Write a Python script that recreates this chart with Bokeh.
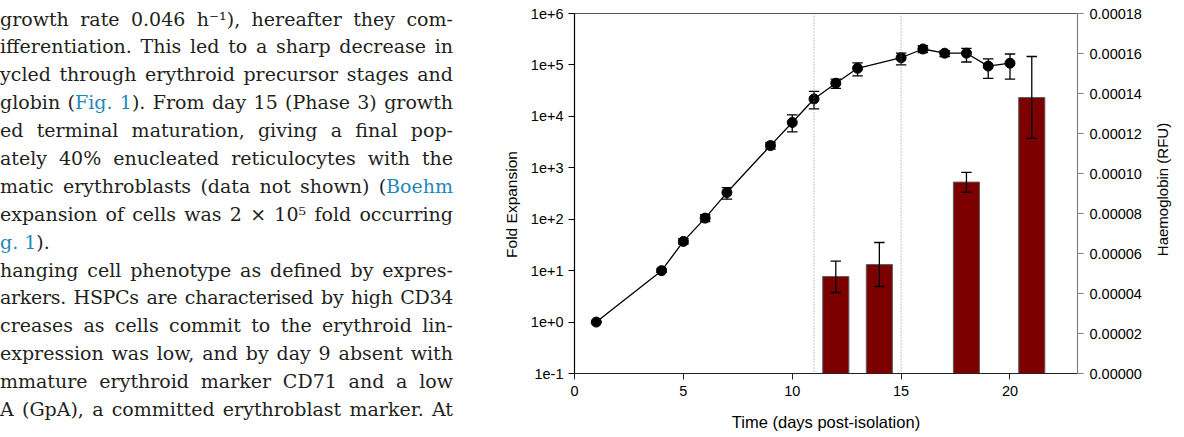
import math
import html
from bokeh.plotting import figure
from bokeh.models import (Range1d, LinearAxis, LinearScale, FixedTicker, CustomJSTickFormatter,
                          PrintfTickFormatter, Span, Div)
from bokeh.layouts import row
from bokeh.core.properties import value
from bokeh.embed import file_html
from bokeh.resources import INLINE

# ---------------- data ----------------
days = [1, 4, 5, 6, 7, 9, 10, 11, 12, 13, 15, 16, 17, 18, 19, 20]
fold = [1, 10, 37, 105, 330, 2700, 7600, 21800, 44000, 86000, 138000, 204000, 169000, 169000, 95000, 108000]
fold_lo = [1, 9.3, 33, 90, 245, 2300, 5000, 14000, 35000, 61000, 100000, 174000, 145000, 114000, 55000, 53000]
fold_hi = [1, 10.8, 42, 122, 410, 3100, 10700, 30700, 53000, 110000, 169000, 238000, 190000, 209000, 131000, 163000]

hb_days = [12, 14, 18, 21]
hb_mean = [4.85e-5, 5.45e-5, 9.57e-5, 1.38e-4]
hb_lo = [4.05e-5, 4.35e-5, 9.07e-5, 1.176e-4]
hb_hi = [5.62e-5, 6.55e-5, 1.006e-4, 1.585e-4]

phase_days = [11, 15]
x_ticks = [0, 5, 10, 15, 20]
fold_ticks = [0.1, 1, 10, 100, 1000, 10000, 100000, 1000000]
hb_ticks = [0, 2e-5, 4e-5, 6e-5, 8e-5, 1e-4, 1.2e-4, 1.4e-4, 1.6e-4, 1.8e-4]

x_label = "Time (days post-isolation)"
y_label = "Fold Expansion"
y2_label = "Haemoglobin (RFU)"

# paragraph fragment shown left of the figure: (pieces, justified, letter-spacing px)
K = "#231f20"
B = "#1f88b8"
para_lines = [
    ([("growth rate 0.046 h\u207b\u00b9), hereafter they com-", K)], True, 0),
    ([("ifferentiation. This led to a sharp decrease in", K)], True, 0),
    ([("ycled through erythroid precursor stages and", K)], True, 0),
    ([("globin (", K), ("Fig. 1", B), ("). From day 15 (Phase 3) growth", K)], True, 0),
    ([("ed terminal maturation, giving a final pop-", K)], True, 0),
    ([("ately 40% enucleated reticulocytes with the", K)], True, 0),
    ([("matic erythroblasts (data not shown) (", K), ("Boehm", B)], True, 0),
    ([("expansion of cells was 2 \u00d7 10\u2075 fold occurring", K)], True, 0),
    ([("g. 1", B), (").", K)], False, 0),
    ([("hanging cell phenotype as defined by expres-", K)], True, 0),
    ([("arkers. HSPCs are characterised by high CD34", K)], True, -0.3),
    ([("creases as cells commit to the erythroid lin-", K)], True, 0),
    ([("expression was low, and by day 9 absent with", K)], True, 0),
    ([("mmature erythroid marker CD71 and a low", K)], True, 0),
    ([("A (GpA), a committed erythroblast marker. At", K)], True, 0),
]

# ---------------- page geometry ----------------
HEIGHT = 437
FL, FR, FT, FB = 574, 1077, 13, 373   # chart frame edges in page pixels
DIV_W = 480
LT_W = 45                             # left title strip
RT_W = 36                             # right title strip
CH_X0 = DIV_W + LT_W                  # chart figure left edge (page px)
CH_W = 1184 - CH_X0 - RT_W
AX_FONT = "Liberation Sans"

# ---------------- paragraph (HTML, justified per line) ----------------
FS = 19
LH = 27.9
rows_html = []
for pieces, justify, ls in para_lines:
    inner = "".join('<span style="color:%s">%s</span>' % (c, html.escape(t)) for t, c in pieces)
    al = "justify" if justify else "left"
    rows_html.append('<div style="white-space:nowrap;text-align:justify;text-align-last:%s;'
                     'letter-spacing:%.2fpx;height:%.1fpx;line-height:%.1fpx">%s</div>'
                     % (al, ls, LH, LH, inner))
para_html = ('<div style="width:453px;padding-top:5.5px;font-family:\'DejaVu Serif\';'
             'font-size:%dpx;color:%s">%s</div>' % (FS, K, "".join(rows_html)))
div = Div(text=para_html, width=DIV_W, height=HEIGHT, margin=0)


# ---------------- title strips ----------------
def title_strip(width, xc, yc, text, size):
    t = figure(width=width, height=HEIGHT, x_range=Range1d(0, width), y_range=Range1d(FB, FT),
               output_backend="svg", toolbar_location=None, min_border_left=0, min_border_right=0,
               min_border_top=FT, min_border_bottom=HEIGHT - FB,
               x_axis_location=None, y_axis_location=None)
    t.xgrid.visible = False
    t.ygrid.visible = False
    t.outline_line_color = None
    t.text(x=[xc], y=[yc], text=[text], angle=math.pi / 2, text_align="center",
           text_baseline="middle", text_font=value(AX_FONT), text_font_size=value(size),
           text_color="black")
    return t


left_title = title_strip(LT_W, 511 - DIV_W, 204, y_label, "15.5px")
right_title = title_strip(RT_W, 1162 - (1184 - RT_W), 189, y2_label, "15px")

# ---------------- chart ----------------
p = figure(width=CH_W, height=HEIGHT, x_range=Range1d(0, 23.1), y_range=Range1d(0.1, 1e6),
           y_axis_type="log", output_backend="svg", toolbar_location=None,
           min_border_left=FL - CH_X0, min_border_right=CH_X0 + CH_W - FR,
           min_border_top=FT, min_border_bottom=HEIGHT - FB)
p.xgrid.visible = False
p.ygrid.visible = False
p.outline_line_color = None
p.extra_y_ranges = {"hb": Range1d(0, 0.00018)}
p.extra_y_scales = {"hb": LinearScale()}

# haemoglobin bars
p.vbar(x=hb_days, top=hb_mean, bottom=0, width=1.2, y_range_name="hb",
       fill_color="#7d0000", line_color="#5e5e5e", line_width=1)
cap = 0.24
p.segment(x0=hb_days, y0=hb_lo, x1=hb_days, y1=hb_hi, y_range_name="hb",
          line_color="black", line_width=1.3)
p.segment(x0=[d - cap for d in hb_days], y0=hb_hi, x1=[d + cap for d in hb_days], y1=hb_hi,
          y_range_name="hb", line_color="black", line_width=1.3)
p.segment(x0=[d - cap for d in hb_days], y0=hb_lo, x1=[d + cap for d in hb_days], y1=hb_lo,
          y_range_name="hb", line_color="black", line_width=1.3)

for d in phase_days:
    p.add_layout(Span(location=d, dimension="height", line_color="#8a8a8a",
                      line_dash="1 2", line_width=1))

# fold expansion
p.line(days, fold, line_color="black", line_width=1.3)
p.segment(x0=days, y0=fold_lo, x1=days, y1=fold_hi, line_color="black", line_width=1.3)
p.segment(x0=[d - cap for d in days], y0=fold_hi, x1=[d + cap for d in days], y1=fold_hi,
          line_color="black", line_width=1.3)
p.segment(x0=[d - cap for d in days], y0=fold_lo, x1=[d + cap for d in days], y1=fold_lo,
          line_color="black", line_width=1.3)
p.scatter(days, fold, size=10, fill_color="black", line_color="black")


def style_axis(ax, line_color="black"):
    ax.axis_line_color = line_color
    ax.axis_line_width = 1.2
    ax.major_tick_line_color = line_color
    ax.major_tick_in = 0
    ax.major_tick_out = 6
    ax.minor_tick_line_color = None
    ax.major_label_text_font = AX_FONT
    ax.major_label_text_font_size = "14.5px"
    ax.major_label_text_color = "black"
    ax.axis_label_text_font = AX_FONT
    ax.axis_label_text_font_style = "normal"
    ax.axis_label_text_color = "black"


xa = p.below[0]
style_axis(xa, "#222222")
xa.ticker = FixedTicker(ticks=x_ticks)
xa.major_label_standoff = 6
xa.axis_label = x_label
xa.axis_label_text_font_size = "16.5px"
xa.axis_label_standoff = 14

ya = p.left[0]
style_axis(ya)
ya.ticker = FixedTicker(ticks=fold_ticks)
ya.formatter = CustomJSTickFormatter(
    code="const e = Math.round(Math.log10(tick)); return '1e' + (e >= 0 ? '+' : '') + e;")
ya.major_label_standoff = 5

ya2 = LinearAxis(y_range_name="hb", ticker=FixedTicker(ticks=hb_ticks),
                 formatter=PrintfTickFormatter(format="%.5f"))
style_axis(ya2, "#808080")
ya2.major_label_standoff = 6
p.add_layout(ya2, "right")

top = LinearAxis(ticker=FixedTicker(ticks=[]), axis_line_color="#555555", axis_line_width=1.2,
                 major_tick_line_color=None, minor_tick_line_color=None)
p.add_layout(top, "above")

layout = row(div, left_title, p, right_title)
open("out.html", "w").write(file_html(layout, INLINE))
